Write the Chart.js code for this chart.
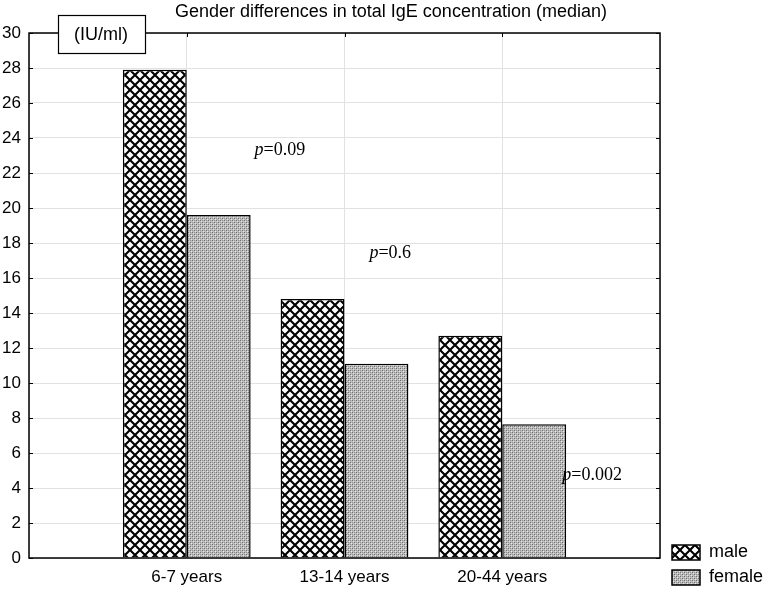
<!DOCTYPE html>
<html>
<head>
<meta charset="utf-8">
<script src="https://cdn.jsdelivr.net/npm/chart.js@4"></script>
<style>
  html, body { margin: 0; padding: 0; background: #fff; }
  #wrap { width: 767px; height: 592px; }
</style>
</head>
<body>
<div id="wrap"><canvas id="barChart"></canvas></div>
<script>
const categories = ['6-7 years', '13-14 years', '20-44 years']
const maleValues = [27.9, 14.8, 12.7]
const femaleValues = [19.6, 11.1, 7.65]
const yTicks = [0, 2, 4, 6, 8, 10, 12, 14, 16, 18, 20, 22, 24, 26, 28, 30]
const pLabels = ['0.09', '0.6', '0.002']

// where each p label sits, in axis units (x = category index, y = IU/ml)
const pAnchors = [[1.59, 23.3], [2.29, 17.4], [3.57, 4.7]]

const FONT = '"Liberation Sans", Arial, sans-serif'
const SERIF = '"Liberation Serif", "Times New Roman", serif'

// Patterns:
function crossHatch() {
    const c = document.createElement('canvas')
    c.width = 10; c.height = 10
    const g = c.getContext('2d')
    g.fillStyle = '#fff'
    g.fillRect(0, 0, 10, 10)
    g.strokeStyle = '#000'
    g.lineWidth = 2.1
    g.beginPath()
    g.moveTo(-2, -2); g.lineTo(12, 12)
    g.moveTo(12, -2); g.lineTo(-2, 12)
    g.stroke()
    return g.createPattern(c, 'repeat')
}

function dotted() {
    const c = document.createElement('canvas')
    c.width = 4; c.height = 4
    const g = c.getContext('2d')
    g.fillStyle = '#bdbdbd'
    g.fillRect(0, 0, 4, 4)
    g.fillStyle = '#6e6e6e'
    g.fillRect(0, 0, 1, 1); g.fillRect(2, 2, 1, 1)
    g.fillStyle = '#949494'
    g.fillRect(2, 0, 1, 1); g.fillRect(0, 2, 1, 1)
    g.fillStyle = '#e8e8e8'
    g.fillRect(1, 1, 1, 1); g.fillRect(3, 3, 1, 1)
    return g.createPattern(c, 'repeat')
}

// empty slots at both ends so the groups sit on the quarter lines
const labels = [''].concat(categories, [''])
const pad = arr => [null].concat(arr, [null])

const decorations = {
    id: 'decorations',
    afterDraw(chart) {
        const ctx = chart.ctx
        const area = chart.chartArea
        const xs = chart.scales.x
        const ys = chart.scales.y
        ctx.save()

        // frame
        ctx.strokeStyle = '#000'
        ctx.lineWidth = 1.5
        ctx.strokeRect(area.left, area.top, area.right - area.left, area.bottom - area.top)

        // inward tick marks
        ctx.lineWidth = 1
        ctx.beginPath()
        yTicks.forEach(v => {
            const y = Math.round(ys.getPixelForValue(v)) + 0.5
            ctx.moveTo(area.left, y); ctx.lineTo(area.left + 4, y)
            ctx.moveTo(area.right, y); ctx.lineTo(area.right - 4, y)
        })
        for (let i = 1; i <= categories.length; i++) {
            const x = Math.round(xs.getPixelForValue(i)) + 0.5
            ctx.moveTo(x, area.top); ctx.lineTo(x, area.top + 4)
        }
        ctx.stroke()

        // title
        ctx.fillStyle = '#000'
        ctx.font = '18px ' + FONT
        ctx.textAlign = 'center'
        ctx.textBaseline = 'middle'
        ctx.fillText('Gender differences in total IgE concentration (median)', 391, 12)

        // unit box
        ctx.fillStyle = '#fff'
        ctx.fillRect(58, 15, 88, 39)
        ctx.strokeStyle = '#000'
        ctx.lineWidth = 1.2
        ctx.strokeRect(58.5, 15.5, 87, 38)
        ctx.fillStyle = '#000'
        ctx.font = '18px ' + FONT
        ctx.fillText('(IU/ml)', 101, 35)

        // p values
        ctx.textAlign = 'left'
        pLabels.forEach((p, i) => {
            const x = xs.getPixelForValue(pAnchors[i][0])
            const y = ys.getPixelForValue(pAnchors[i][1])
            ctx.font = 'italic 18px ' + SERIF
            const w1 = ctx.measureText('p').width
            ctx.font = '18px ' + SERIF
            const w2 = ctx.measureText('=' + p).width
            const x0 = x - (w1 + w2) / 2
            ctx.font = 'italic 18px ' + SERIF
            ctx.fillText('p', x0, y)
            ctx.font = '18px ' + SERIF
            ctx.fillText('=' + p, x0 + w1, y)
        })

        // legend
        ctx.font = '18px ' + FONT
        chart.data.datasets.forEach((ds, i) => {
            const top = 545 + i * 25
            ctx.fillStyle = ds.backgroundColor
            ctx.fillRect(672, top, 28, 15)
            ctx.strokeStyle = '#000'
            ctx.lineWidth = 1.5
            ctx.strokeRect(672, top, 28, 15)
            ctx.fillStyle = '#000'
            ctx.fillText(ds.label, 709, top + 7)
        })

        ctx.restore()
    }
}

const ctx = document.getElementById('barChart').getContext('2d')

const data = {
    labels,
    datasets: [
        {
            label: 'male',
            data: pad(maleValues),
            backgroundColor: crossHatch(),
            borderColor: '#000',
            borderWidth: 1.5,
        },
        {
            label: 'female',
            data: pad(femaleValues),
            backgroundColor: dotted(),
            borderColor: '#000',
            borderWidth: 1.5,
        },
    ],
}

const config = {
    type: 'bar',
    data: data,
    plugins: [decorations],
    options: {
        responsive: true,
        maintainAspectRatio: false,
        animation: false,
        barPercentage: 1,
        categoryPercentage: 0.81,
        layout: { padding: { top: 33, right: 107, left: 0, bottom: 0 } },
        plugins: {
            legend: { display: false },
            title: { display: false },
            tooltip: { enabled: false },
        },
        scales: {
            x: {
                offset: false,
                grid: { color: '#e2e2e2', drawTicks: false, offset: false },
                border: { display: false },
                ticks: { color: '#000', font: { family: FONT, size: 17 }, padding: 9, maxRotation: 0, autoSkip: false },
                afterFit(s) { s.height = 34 },
            },
            y: {
                min: 0,
                max: 30,
                grid: { color: '#e2e2e2', drawTicks: false },
                border: { display: false },
                ticks: { stepSize: 2, color: '#000', font: { family: FONT, size: 17 }, padding: 8 },
                afterFit(s) { s.width = 29 },
            },
        },
    },
}

const myChart = new Chart(ctx, config)
</script>
</body>
</html>
